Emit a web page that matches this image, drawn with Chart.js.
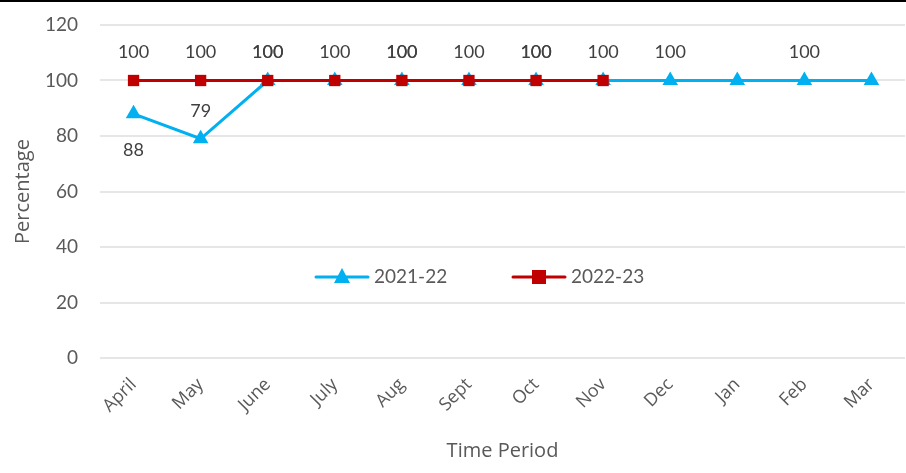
<!DOCTYPE html>
<html><head><meta charset="utf-8">
<script src="https://cdn.jsdelivr.net/npm/chart.js@4"></script>
<style>
html,body{margin:0;padding:0;background:#fff;}
#wrap{position:relative;width:906px;height:473px;}
#topline{position:absolute;left:0;top:0;width:906px;height:2px;background:#000;}
</style></head>
<body><div id="wrap"><div id="topline"></div><canvas id="c" width="906" height="473"></canvas></div>
<script>
const categories = ["April","May","June","July","Aug","Sept","Oct","Nov","Dec","Jan","Feb","Mar"];
const series2122 = [88,79,100,100,100,100,100,100,100,100,100,100];
const series2223 = [100,100,100,100,100,100,100,100,null,null,null,null];
// data label placement: 'above', 'below' or null (no label)
const labels2122 = ["below","above","above",null,"above",null,"above",null,"above",null,"above",null];
const labels2223 = ["above","above","above","above","above","above","above","above",null,null,null,null];
const yTicks = [0,20,40,60,80,100,120];

const BLUE = "#00B0F0", RED = "#C00000", TXT = "#595959";

const dataLabelPlugin = {
  id: "dataLabels",
  afterDatasetsDraw(chart) {
    const ctx = chart.ctx;
    const placements = [labels2122, labels2223];
    ctx.save();
    ctx.font = "18px Lato, 'Open Sans', sans-serif";
    ctx.fillStyle = "#404040";
    ctx.textAlign = "center";
    ctx.textBaseline = "middle";
    chart.data.datasets.forEach((ds, di) => {
      const meta = chart.getDatasetMeta(di);
      meta.data.forEach((pt, i) => {
        const v = ds.data[i];
        const pl = placements[di][i];
        if (v == null || !pl) return;
        const y = pl === "above" ? pt.y - 28 : pt.y + 36;
        ctx.fillText(String(v), pt.x, y);
      });
    });
    ctx.restore();
  }
};

const legendPlugin = {
  id: "customLegend",
  afterDraw(chart) {
    const ctx = chart.ctx;
    const cy = 277;
    const items = [
      {x: 316, color: BLUE, shape: "triangle", text: "2021-22"},
      {x: 513, color: RED, shape: "rect", text: "2022-23"}
    ];
    ctx.save();
    items.forEach(it => {
      ctx.strokeStyle = it.color; ctx.fillStyle = it.color; ctx.lineWidth = 3; ctx.lineCap = "round";
      ctx.beginPath(); ctx.moveTo(it.x, cy); ctx.lineTo(it.x + 52, cy); ctx.stroke();
      const mx = it.x + 26;
      ctx.beginPath();
      if (it.shape === "triangle") {
        ctx.moveTo(mx, cy - 9); ctx.lineTo(mx + 8, cy + 6); ctx.lineTo(mx - 8, cy + 6); ctx.closePath(); ctx.fill();
      } else {
        ctx.fillRect(mx - 7, cy - 7, 14, 14);
      }
      ctx.fillStyle = TXT;
      ctx.font = "19px Lato, 'Open Sans', sans-serif";
      ctx.textAlign = "left"; ctx.textBaseline = "middle";
      ctx.fillText(it.text, it.x + 58, cy);
    });
    ctx.restore();
  }
};

new Chart(document.getElementById("c"), {
  type: "line",
  data: {
    labels: categories,
    datasets: [
      {label: "2021-22", data: series2122, borderColor: BLUE, backgroundColor: BLUE, borderWidth: 3, order: 2,
       pointStyle: "triangle", pointRadius: 9, pointHoverRadius: 9, pointBorderWidth: 0, tension: 0},
      {label: "2022-23", data: series2223, borderColor: RED, backgroundColor: RED, borderWidth: 3, order: 1,
       pointStyle: "rect", pointRadius: 8, pointHoverRadius: 8, pointBorderWidth: 0, tension: 0, spanGaps: false}
    ]
  },
  options: {
    responsive: false,
    animation: false,
    layout: {autoPadding: false, padding: {top: 25, right: 1, left: 7, bottom: 6}},
    plugins: {legend: {display: false}, tooltip: {enabled: false}},
    scales: {
      x: {
        offset: true,
        grid: {display: false},
        border: {display: false},
        ticks: {color: TXT, font: {family: "'Open Sans', sans-serif", size: 18}, minRotation: 45, maxRotation: 45, padding: 8},
        title: {display: true, text: "Time Period", color: TXT, font: {family: "'Open Sans', sans-serif", size: 20}, padding: {top: 0}},
        afterFit(s) { s.height = 109; }
      },
      y: {
        min: 0, max: 120,
        afterBuildTicks(s) { s.ticks = yTicks.map(v => ({value: v})); },
        grid: {color: "#E6E6E6", lineWidth: 2, drawTicks: false},
        border: {display: false},
        ticks: {color: TXT, font: {family: "Lato, 'Open Sans', sans-serif", size: 19}, padding: 22},
        title: {display: true, text: "Percentage", color: TXT, font: {family: "'Open Sans', sans-serif", size: 20}, padding: {bottom: 4}},
        afterFit(s) { s.width = 93; s.paddingTop = 0; s.paddingBottom = 0; }
      }
    }
  },
  plugins: [dataLabelPlugin, legendPlugin]
});
</script></body></html>
